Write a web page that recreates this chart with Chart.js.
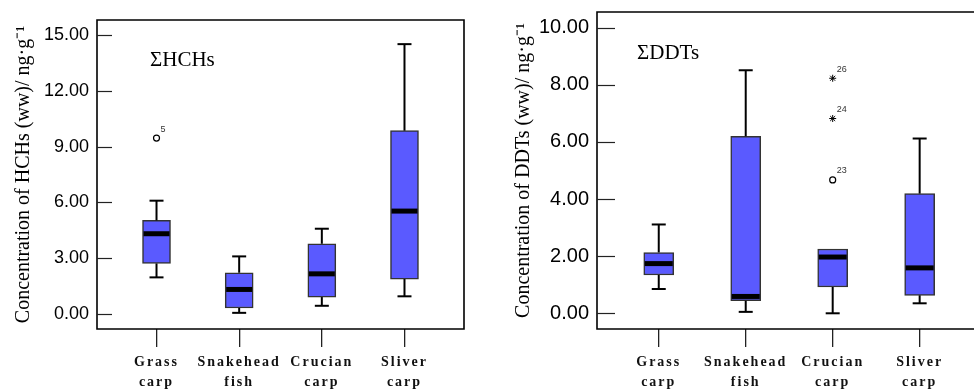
<!DOCTYPE html>
<html>
<head>
<meta charset="utf-8">
<script src="https://cdn.jsdelivr.net/npm/chart.js@4.4.1/dist/chart.umd.min.js"></script>
<style>
  html, body { margin: 0; padding: 0; background: #fff; }
  #wrap { position: relative; width: 974px; height: 390px; overflow: hidden; }
  canvas { position: absolute; top: 0; }
  #c1 { left: 0; }
  #c2 { left: 487px; }
</style>
</head>
<body>
<div id="wrap">
  <canvas id="c1" width="487" height="390"></canvas>
  <canvas id="c2" width="487" height="390"></canvas>
</div>
<script>
// ---------- data ----------
const categories = [['Grass', 'carp'], ['Snakehead', 'fish'], ['Crucian', 'carp'], ['Sliver', 'carp']];

// ΣHCHs (ng/g ww)
const hchMin    = [1.96, 0.05, 0.43, 0.94];
const hchQ1     = [2.71, 0.31, 0.90, 1.87];
const hchMedian = [4.31, 1.31, 2.15, 5.53];
const hchQ3     = [5.03, 2.21, 3.77, 9.86];
const hchMax    = [6.09, 3.09, 4.58, 14.52];
const hchOutlierCat   = [0];
const hchOutlierValue = [9.46];
const hchOutlierId    = ['5'];
const hchOutlierStyle = ['circle'];
const hchTicks = [0, 3, 6, 9, 12, 15];

// ΣDDTs (ng/g ww)
const ddtMin    = [0.85, 0.05, 0.00, 0.35];
const ddtQ1     = [1.34, 0.44, 0.92, 0.63];
const ddtMedian = [1.74, 0.59, 1.97, 1.59];
const ddtQ3     = [2.13, 6.20, 2.25, 4.19];
const ddtMax    = [3.11, 8.51, 2.25, 6.12];
const ddtOutlierCat   = [2, 2, 2];
const ddtOutlierValue = [8.23, 6.82, 4.67];
const ddtOutlierId    = ['26', '24', '23'];
const ddtOutlierStyle = ['star', 'star', 'circle'];
const ddtTicks = [0, 2, 4, 6, 8, 10];

// ---------- plugin: whiskers, medians, frame, inner ticks, labels ----------
const boxExtras = {
  id: 'boxExtras',
  beforeDraw(chart, args, o) {
    const xs = chart.scales.x;
    if (xs && !xs._lsPatched) {
      const orig = xs.drawLabels.bind(xs);
      xs.drawLabels = function (ca) {
        const ctx = chart.ctx;
        ctx.save();
        ctx.letterSpacing = o.letterSpacing;
        orig(ca);
        ctx.restore();
      };
      xs._lsPatched = true;
    }
  },
  afterDatasetsDraw(chart, args, o) {
    const { ctx, chartArea: a, scales: { x, y } } = chart;
    ctx.save();
    // frame
    ctx.strokeStyle = '#000';
    ctx.lineWidth = 1.6;
    ctx.beginPath();
    if (o.rightBorder) {
      ctx.rect(a.left, a.top, a.right - a.left, a.bottom - a.top);
    } else {
      ctx.moveTo(chart.width + 2, a.top);
      ctx.lineTo(a.left, a.top);
      ctx.lineTo(a.left, a.bottom);
      ctx.lineTo(chart.width + 2, a.bottom);
    }
    ctx.stroke();
    // inner y ticks
    ctx.lineWidth = 1.2;
    ctx.strokeStyle = '#222';
    y.ticks.forEach(t => {
      const py = Math.round(y.getPixelForValue(t.value)) + 0.5;
      ctx.beginPath();
      ctx.moveTo(a.left, py);
      ctx.lineTo(a.left + o.tickLen, py);
      ctx.stroke();
    });
    // whiskers and medians
    const s = o.stats;
    const line = (x1, y1, x2, y2) => { ctx.beginPath(); ctx.moveTo(x1, y1); ctx.lineTo(x2, y2); ctx.stroke(); };
    s.min.forEach((mn, i) => {
      const cx = x.getPixelForValue(i);
      const pMin = y.getPixelForValue(mn);
      const pMax = y.getPixelForValue(s.max[i]);
      const pQ1 = y.getPixelForValue(s.q1[i]);
      const pQ3 = y.getPixelForValue(s.q3[i]);
      const pMed = y.getPixelForValue(s.med[i]);
      ctx.strokeStyle = '#000';
      ctx.lineWidth = 2;
      if (s.max[i] > s.q3[i]) {
        line(cx, pQ3, cx, pMax);
        line(cx - o.cap / 2, pMax, cx + o.cap / 2, pMax);
      }
      if (mn < s.q1[i]) {
        line(cx, pQ1, cx, pMin);
        line(cx - o.cap / 2, pMin, cx + o.cap / 2, pMin);
      }
      ctx.lineWidth = 5;
      line(cx - o.boxW / 2 + 1, pMed, cx + o.boxW / 2 - 1, pMed);
    });
    // outlier labels
    ctx.fillStyle = '#333';
    ctx.font = '9px "Liberation Sans", Arial, sans-serif';
    ctx.textBaseline = 'middle';
    ctx.textAlign = 'left';
    o.outliers.cat.forEach((c, i) => {
      const px = x.getPixelForValue(c);
      const py = y.getPixelForValue(o.outliers.value[i]);
      ctx.fillText(o.outliers.id[i], px + 4, py - 9);
    });
    // series annotation
    ctx.fillStyle = '#000';
    ctx.font = '21px "Liberation Serif", "Times New Roman", serif';
    ctx.textBaseline = 'middle';
    ctx.fillText(o.note, a.left + o.noteDx, a.top + o.noteDy);
    ctx.restore();
  }
};

function noPad(s) {
  s.paddingTop = 0; s.paddingBottom = 0; s.paddingLeft = 0; s.paddingRight = 0;
}

function makeChart(id, cfg) {
  const boxData = categories.map((_, i) => ({ x: i, y: [cfg.q1[i], cfg.q3[i]] }));
  const outData = cfg.oCat.map((c, i) => ({ x: c, y: cfg.oVal[i] }));
  return new Chart(document.getElementById(id), {
    type: 'bar',
    data: {
      datasets: [
        {
          type: 'bar',
          data: boxData,
          backgroundColor: '#5a5aff',
          borderColor: '#333',
          borderWidth: 1.5,
          borderSkipped: false,
          barThickness: cfg.boxW
        },
        {
          type: 'scatter',
          data: outData,
          pointStyle: cfg.oStyle,
          pointRadius: cfg.oStyle.map(s => s === 'star' ? 3.5 : 3),
          borderColor: '#000',
          backgroundColor: '#fff',
          borderWidth: cfg.oStyle.map(s => s === 'star' ? 1 : 1.2)
        }
      ]
    },
    options: {
      responsive: false,
      animation: false,
      layout: { padding: cfg.padding },
      plugins: {
        legend: { display: false },
        tooltip: { enabled: false },
        boxExtras: {
          stats: { min: cfg.min, q1: cfg.q1, med: cfg.med, q3: cfg.q3, max: cfg.max },
          outliers: { cat: cfg.oCat, value: cfg.oVal, id: cfg.oId },
          cap: 14,
          boxW: cfg.boxW,
          tickLen: cfg.tickLen,
          rightBorder: cfg.rightBorder,
          note: cfg.note,
          noteDx: cfg.noteDx,
          noteDy: cfg.noteDy,
          letterSpacing: '2px'
        }
      },
      scales: {
        x: {
          type: 'linear',
          offset: false,
          min: cfg.xMin,
          max: cfg.xMax,
          afterBuildTicks: s => { s.ticks = categories.map((_, i) => ({ value: i })); },
          afterFit: s => { s.height = 61; noPad(s); },
          border: { display: false },
          grid: { display: true, offset: false, drawOnChartArea: false, drawTicks: true, tickLength: 18, color: '#222', lineWidth: 1.3 },
          ticks: {
            autoSkip: false,
            maxRotation: 0,
            padding: 5,
            color: '#111',
            font: { family: '"Liberation Serif", "Times New Roman", serif', size: 14, weight: 'bold', lineHeight: 1.43 },
            callback: v => categories[v]
          }
        },
        y: {
          type: 'linear',
          min: cfg.yMin,
          max: cfg.yMax,
          afterBuildTicks: s => { s.ticks = cfg.yTicks.map(v => ({ value: v })); },
          afterFit: s => { s.width = cfg.yWidth; noPad(s); },
          border: { display: false },
          grid: { display: false, drawTicks: false, tickLength: 0 },
          ticks: {
            padding: 8,
            color: '#000',
            font: { family: '"Liberation Sans", Arial, sans-serif', size: cfg.tickFont },
            callback: v => Number(v).toFixed(2)
          },
          title: {
            display: true,
            text: cfg.yTitle,
            color: '#000',
            padding: { top: cfg.titlePad, bottom: 0 },
            font: { family: '"Liberation Serif", "Times New Roman", serif', size: 20 }
          }
        }
      }
    },
    plugins: [boxExtras]
  });
}

makeChart('c1', {
  min: hchMin, q1: hchQ1, med: hchMedian, q3: hchQ3, max: hchMax,
  oCat: hchOutlierCat, oVal: hchOutlierValue, oId: hchOutlierId, oStyle: hchOutlierStyle,
  yTicks: hchTicks, yMin: -0.82, yMax: 15.82, xMin: -0.72, xMax: 3.72,
  yTitle: 'Concentration of HCHs (ww)/ ng·g⁻¹',
  padding: { top: 20, right: 23, left: 0, bottom: 0 },
  yWidth: 97, boxW: 28, tickLen: 15, tickFont: 18, titlePad: 12,
  rightBorder: true, note: 'ΣHCHs', noteDx: 53, noteDy: 40
});

makeChart('c2', {
  min: ddtMin, q1: ddtQ1, med: ddtMedian, q3: ddtQ3, max: ddtMax,
  oCat: ddtOutlierCat, oVal: ddtOutlierValue, oId: ddtOutlierId, oStyle: ddtOutlierStyle,
  yTicks: ddtTicks, yMin: -0.55, yMax: 10.55, xMin: -0.71, xMax: 3.565,
  yTitle: 'Concentration of DDTs (ww)/ ng·g⁻¹',
  padding: { top: 12, right: 0, left: 0, bottom: 0 },
  yWidth: 110, boxW: 30, tickLen: 18, tickFont: 20, titlePad: 25,
  rightBorder: false, note: 'ΣDDTs', noteDx: 40, noteDy: 41
});
</script>
</body>
</html>
